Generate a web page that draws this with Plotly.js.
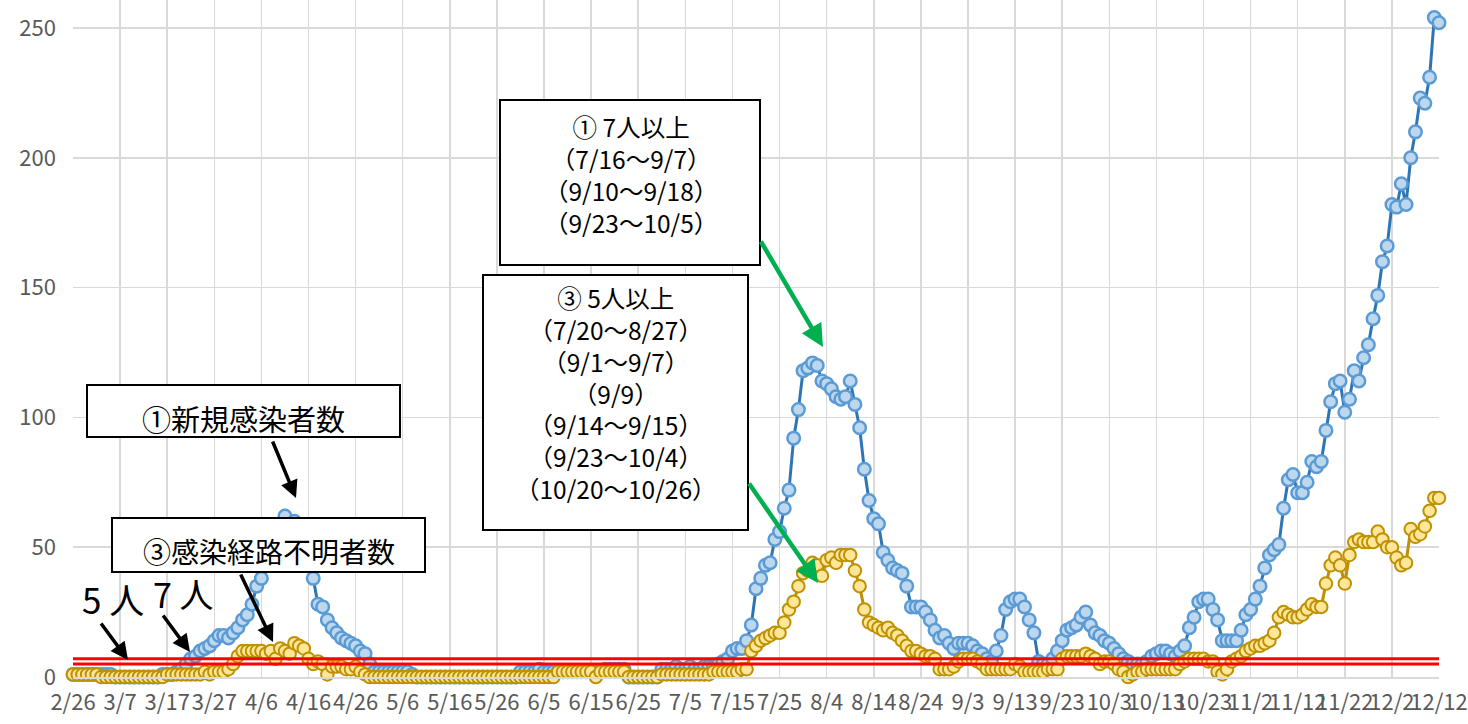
<!DOCTYPE html>
<html>
<head>
<meta charset="utf-8">
<script src="https://cdn.plot.ly/plotly-3.0.1.min.js"></script>
<style>
  html, body { margin: 0; padding: 0; background: #ffffff; }
  #chart { width: 1468px; height: 724px; }
</style>
</head>
<body>
<div id="chart"></div>
<script>
// ---- data ----
const startDate = '2020-02-26';
const dayCount = 291;

const tickLabels = ['2/26','3/7','3/17','3/27','4/6','4/16','4/26','5/6','5/16','5/26',
  '6/5','6/15','6/25','7/5','7/15','7/25','8/4','8/14','8/24','9/3',
  '9/13','9/23','10/3','10/13','10/23','11/2','11/12','11/22','12/2','12/12'];

// ① 新規感染者数
const newCases = [
  1,1,1,1,1,1,1,1,1,0,
  0,0,0,0,0,0,0,0,0,1,
  1,1,2,3,5,7,8,10,11,12,
  14,16,16,15,17,19,22,24,28,35,
  38,44,48,53,58,62,52,60,52,46,
  44,38,28,27,22,19,17,15,14,13,
  12,10,9,5,2,2,2,2,2,2,
  2,2,1,0,0,0,0,0,0,0,
  0,0,0,0,0,0,0,0,0,0,
  0,0,0,0,0,2,2,2,2,3,
  2,2,2,2,2,2,2,2,2,2,
  2,2,2,3,3,3,3,3,0,0,
  0,0,0,0,0,3,3,3,4,3,
  3,4,3,3,4,4,4,5,6,7,
  10,11,11,14,20,34,38,43,44,53,
  56,65,72,92,103,118,119,121,120,114,
  113,111,108,107,108,114,105,96,80,68,
  61,59,48,45,42,41,40,35,27,27,
  27,25,22,18,15,16,13,11,13,13,
  13,12,10,9,7,6,10,16,26,29,
  30,30,27,22,17,6,5,5,7,10,
  14,18,19,20,23,25,20,17,16,14,
  13,11,9,7,6,5,5,5,6,8,
  9,10,10,9,8,10,12,19,23,29,
  30,30,26,22,14,14,14,14,18,24,
  26,30,35,42,47,49,51,65,76,78,
  71,71,75,83,81,83,95,106,113,114,
  102,107,118,114,123,128,138,147,160,166,
  182,181,190,182,200,210,223,221,231,254,
  252
];

// ③ 感染経路不明者数
const unknownRoute = [
  1,1,1,1,1,1,0,0,0,0,
  0,0,0,0,0,0,0,0,0,0,
  1,1,1,1,1,1,1,1,2,1,
  2,2,2,3,5,8,10,10,10,10,
  10,9,10,7,11,10,9,13,12,11,
  7,5,6,5,1,4,4,4,3,3,
  4,2,1,0,0,0,0,0,0,0,
  0,0,0,0,0,0,0,0,0,0,
  0,0,0,0,0,0,0,0,0,0,
  0,0,0,0,0,0,0,0,0,0,
  0,0,0,2,2,2,2,2,2,2,
  2,0,2,2,2,2,2,2,0,0,
  0,0,0,0,0,1,1,1,1,1,
  1,1,1,1,1,1,2,2,2,2,
  2,2,3,3,10,12,14,15,16,17,
  17,21,26,29,35,40,41,44,43,39,
  45,46,44,47,47,47,41,35,26,21,
  20,19,18,19,17,16,14,12,10,10,
  9,8,8,7,3,3,3,4,6,7,
  7,7,6,5,3,3,3,3,3,3,
  5,4,2,2,2,2,2,3,3,3,
  7,8,8,8,8,9,8,7,5,6,
  6,5,3,2,0,1,2,2,3,3,
  3,3,3,3,3,5,6,7,7,7,
  7,6,6,2,1,3,6,7,8,10,
  11,12,12,13,14,17,23,25,24,23,
  23,24,26,28,27,27,36,43,46,43,
  36,47,52,53,52,52,52,56,53,50,
  50,46,43,44,57,54,55,58,64,69,
  69
];

// threshold lines (persons)
const thresholds = [5, 7];

const box1Text = '①新規感染者数';
const box2Text = '③感染経路不明者数';
const box3Lines = ['① 7人以上','（7/16～9/7）','（9/10～9/18）','（9/23～10/5）'];
const box4Lines = ['③ 5人以上','（7/20～8/27）','（9/1～9/7）','（9/9）','（9/14～9/15）','（9/23～10/4）','（10/20～10/26）'];
const label5 = '5 人';
const label7 = '7 人';

// ---- categories ----
const dates = [];
(function(){
  const d0 = new Date(startDate + 'T00:00:00Z');
  for (let i = 0; i < dayCount; i++) {
    const d = new Date(d0.getTime() + i * 86400000);
    dates.push((d.getUTCMonth() + 1) + '/' + d.getUTCDate());
  }
})();

// ---- geometry helpers (pixel -> paper) ----
const W = 1468, H = 724;
const mL = 73, mR = 29, mT = 0, mB = 47;
const pw = W - mL - mR, ph = H - mT - mB;
const px = v => (v - mL) / pw;
const py = v => (H - mB - v) / ph;

const FONT = '"Noto Sans CJK JP", "Noto Sans", sans-serif';

const traces = [
  {
    x: dates, y: newCases, type: 'scatter', mode: 'lines+markers',
    line: { color: '#2e75b6', width: 3 },
    marker: { size: 12.5, color: '#bdd7ee', line: { color: '#5b9bd5', width: 2.5 } },
    cliponaxis: false, hoverinfo: 'skip', showlegend: false
  },
  {
    x: dates, y: unknownRoute, type: 'scatter', mode: 'lines+markers',
    line: { color: '#bf9000', width: 3 },
    marker: { size: 12.5, color: '#ffe699', line: { color: '#bf9000', width: 2 } },
    cliponaxis: false, hoverinfo: 'skip', showlegend: false
  }
];

const shapes = thresholds.map(t => ({
  type: 'line', xref: 'paper', yref: 'y', x0: 0, x1: 1, y0: t, y1: t,
  line: { color: '#ff0000', width: 3 }, layer: 'above'
}));

function box(l, t, r, b) {
  return { type: 'rect', xref: 'paper', yref: 'paper',
    x0: px(l), x1: px(r), y0: py(b), y1: py(t),
    fillcolor: '#ffffff', line: { color: '#000000', width: 2 }, layer: 'above' };
}
shapes.push(box(87, 385, 400, 437));
shapes.push(box(112, 518, 425, 572));
shapes.push(box(500, 100, 760, 265));
shapes.push(box(483, 275, 748, 530));

function txt(text, cx, cy, size) {
  return { text: text, xref: 'paper', yref: 'paper', x: px(cx), y: py(cy),
    xanchor: 'center', yanchor: 'middle', showarrow: false, align: 'center',
    font: { family: FONT, size: size, color: '#000000' } };
}
function arrow(tx, ty, hx, hy, color, w) {
  return { text: '', xref: 'paper', yref: 'paper', x: px(hx), y: py(hy),
    ax: tx - hx, ay: ty - hy, showarrow: true, arrowhead: 2, arrowsize: 1,
    arrowwidth: w, arrowcolor: color, standoff: 0, startstandoff: 0 };
}

const annotations = [
  txt(box1Text, 243, 418, 29),
  txt(box2Text, 269, 551, 28),
  txt(box3Lines.join('<br>'), 631, 174, 24.5),
  txt(box4Lines.join('<br>'), 616, 393, 24.5),
  txt(label5, 113, 598, 35),
  txt(label7, 183, 593, 34),
  arrow(272, 440, 296, 498, '#000000', 3.5),
  arrow(240, 573, 273, 642, '#000000', 3.5),
  arrow(100, 622, 128, 660, '#000000', 3.5),
  arrow(162, 614, 190, 652, '#000000', 3.5),
  arrow(760, 240, 823, 347, '#00b050', 4.5),
  arrow(748, 482, 818, 583, '#00b050', 4.5)
];

const layout = {
  width: W, height: H,
  margin: { l: mL, r: mR, t: mT, b: mB, pad: 0 },
  paper_bgcolor: '#ffffff', plot_bgcolor: '#ffffff',
  font: { family: FONT, color: '#595959' },
  showlegend: false,
  xaxis: {
    type: 'category', range: [0, dayCount - 1],
    tickmode: 'array', tickvals: tickLabels, ticktext: tickLabels,
    showgrid: true, gridcolor: '#d9d9d9', gridwidth: 1.5,
    showline: true, linecolor: '#d9d9d9', linewidth: 1.5,
    zeroline: false, ticks: '', ticklabelstandoff: 5,
    tickfont: { family: FONT, size: 22, color: '#595959' },
    tickangle: 0, fixedrange: true
  },
  yaxis: {
    range: [0, 677 / 2.596], dtick: 50, tick0: 0,
    showgrid: true, gridcolor: '#d9d9d9', gridwidth: 1.5,
    zeroline: false, showline: false, ticks: '', ticklabelstandoff: 16,
    tickfont: { family: FONT, size: 22, color: '#595959' },
    fixedrange: true
  },
  shapes: shapes,
  annotations: annotations
};

Plotly.newPlot('chart', traces, layout, { staticPlot: true, displayModeBar: false });
</script>
</body>
</html>
